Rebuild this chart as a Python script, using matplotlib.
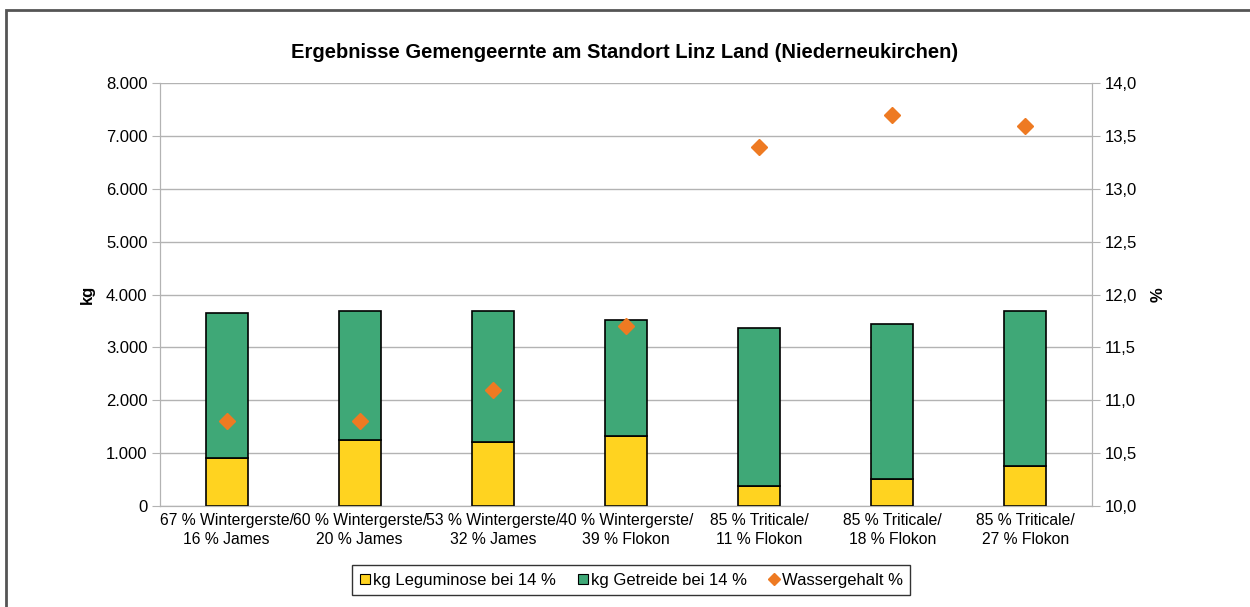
import matplotlib
matplotlib.use("Agg")
import matplotlib.pyplot as plt
from matplotlib.patches import Rectangle
from matplotlib.lines import Line2D
from matplotlib.ticker import FuncFormatter, FixedLocator

plt.rcParams['font.family'] = ['Liberation Sans', 'DejaVu Sans']

categories = ["67 % Wintergerste/\n16 % James", "60 % Wintergerste/\n20 % James",
              "53 % Wintergerste/\n32 % James", "40 % Wintergerste/\n39 % Flokon",
              "85 % Triticale/\n11 % Flokon", "85 % Triticale/\n18 % Flokon",
              "85 % Triticale/\n27 % Flokon"]
leguminose = [900, 1250, 1210, 1320, 380, 520, 760]
total = [3650, 3690, 3690, 3520, 3370, 3450, 3690]
getreide = [t - l for t, l in zip(total, leguminose)]
wassergehalt = [10.8, 10.8, 11.1, 11.7, 13.4, 13.7, 13.6]

c_yellow = "#FFD320"
c_green = "#3FA877"
c_orange = "#EE7A22"
c_axis = "#B3B3B3"

fig = plt.figure(figsize=(12.5, 6.07), dpi=100)
ax = fig.add_axes([0.128, 0.1664, 0.7456, 0.6964])
ax2 = ax.twinx()

x = list(range(len(categories)))
w = 0.315
ax.bar(x, leguminose, width=w, color=c_yellow, edgecolor="black", linewidth=1.2, zorder=3)
ax.bar(x, getreide, width=w, bottom=leguminose, color=c_green, edgecolor="black", linewidth=1.2, zorder=3)
ax2.plot(x, wassergehalt, linestyle="none", marker="D", markersize=8.5, color=c_orange, zorder=4)

ax.set_xlim(-0.5, len(categories) - 0.5)
ax.set_ylim(0, 8000)
ax2.set_ylim(10, 14)
ax.yaxis.set_major_locator(FixedLocator(range(0, 8001, 1000)))
ax2.yaxis.set_major_locator(FixedLocator([10 + 0.5 * i for i in range(9)]))
ax.yaxis.set_major_formatter(FuncFormatter(lambda v, p: f"{int(v):,}".replace(",", ".")))
ax2.yaxis.set_major_formatter(FuncFormatter(lambda v, p: f"{v:.1f}".replace(".", ",")))

ax.set_xticks(x)
ax.set_xticklabels(categories, fontsize=11.3, linespacing=1.3)
ax.tick_params(axis="x", length=0, pad=5)
ax.tick_params(axis="y", labelsize=12, length=6, color=c_axis, pad=3)
ax2.tick_params(axis="y", labelsize=12, length=6, color=c_axis, pad=3)

ax.grid(axis="y", color=c_axis, linewidth=1, zorder=0)
ax.set_axisbelow(True)
for a in (ax, ax2):
    a.spines["top"].set_visible(False)
    a.spines["left"].set_color(c_axis)
    a.spines["right"].set_color(c_axis)
    a.spines["bottom"].set_color(c_axis)

ax.set_ylabel("kg", fontsize=12, fontweight="bold", labelpad=8)
ax2.set_ylabel("%", fontsize=12, fontweight="bold", labelpad=10, rotation=90)

fig.text(0.5, 0.913, "Ergebnisse Gemengeernte am Standort Linz Land (Niederneukirchen)",
         ha="center", va="center", fontsize=14.5, fontweight="bold")

handles = [
    Line2D([], [], linestyle="none", marker="s", markersize=7, markerfacecolor=c_yellow, markeredgecolor="black", markeredgewidth=0.8),
    Line2D([], [], linestyle="none", marker="s", markersize=7, markerfacecolor=c_green, markeredgecolor="black", markeredgewidth=0.8),
    Line2D([], [], linestyle="none", marker="D", markersize=6, color=c_orange),
]
labels = ["kg Leguminose bei 14 %", "kg Getreide bei 14 %", "Wassergehalt %"]
leg = fig.legend(handles, labels, loc="center", bbox_to_anchor=(0.505, 0.044), ncol=3,
                 fontsize=12, frameon=True, fancybox=False, edgecolor="black",
                 handlelength=0.6, handletextpad=0.2, columnspacing=1.3, borderpad=0.45)
leg.get_frame().set_linewidth(1)

fig.patches.append(Rectangle((6 / 1250, -0.1), 1.2, 1 - 9.5 / 607 + 0.1, transform=fig.transFigure,
                             fill=False, edgecolor="#555555", linewidth=2, zorder=10))

fig.savefig("out.png", dpi=100)
